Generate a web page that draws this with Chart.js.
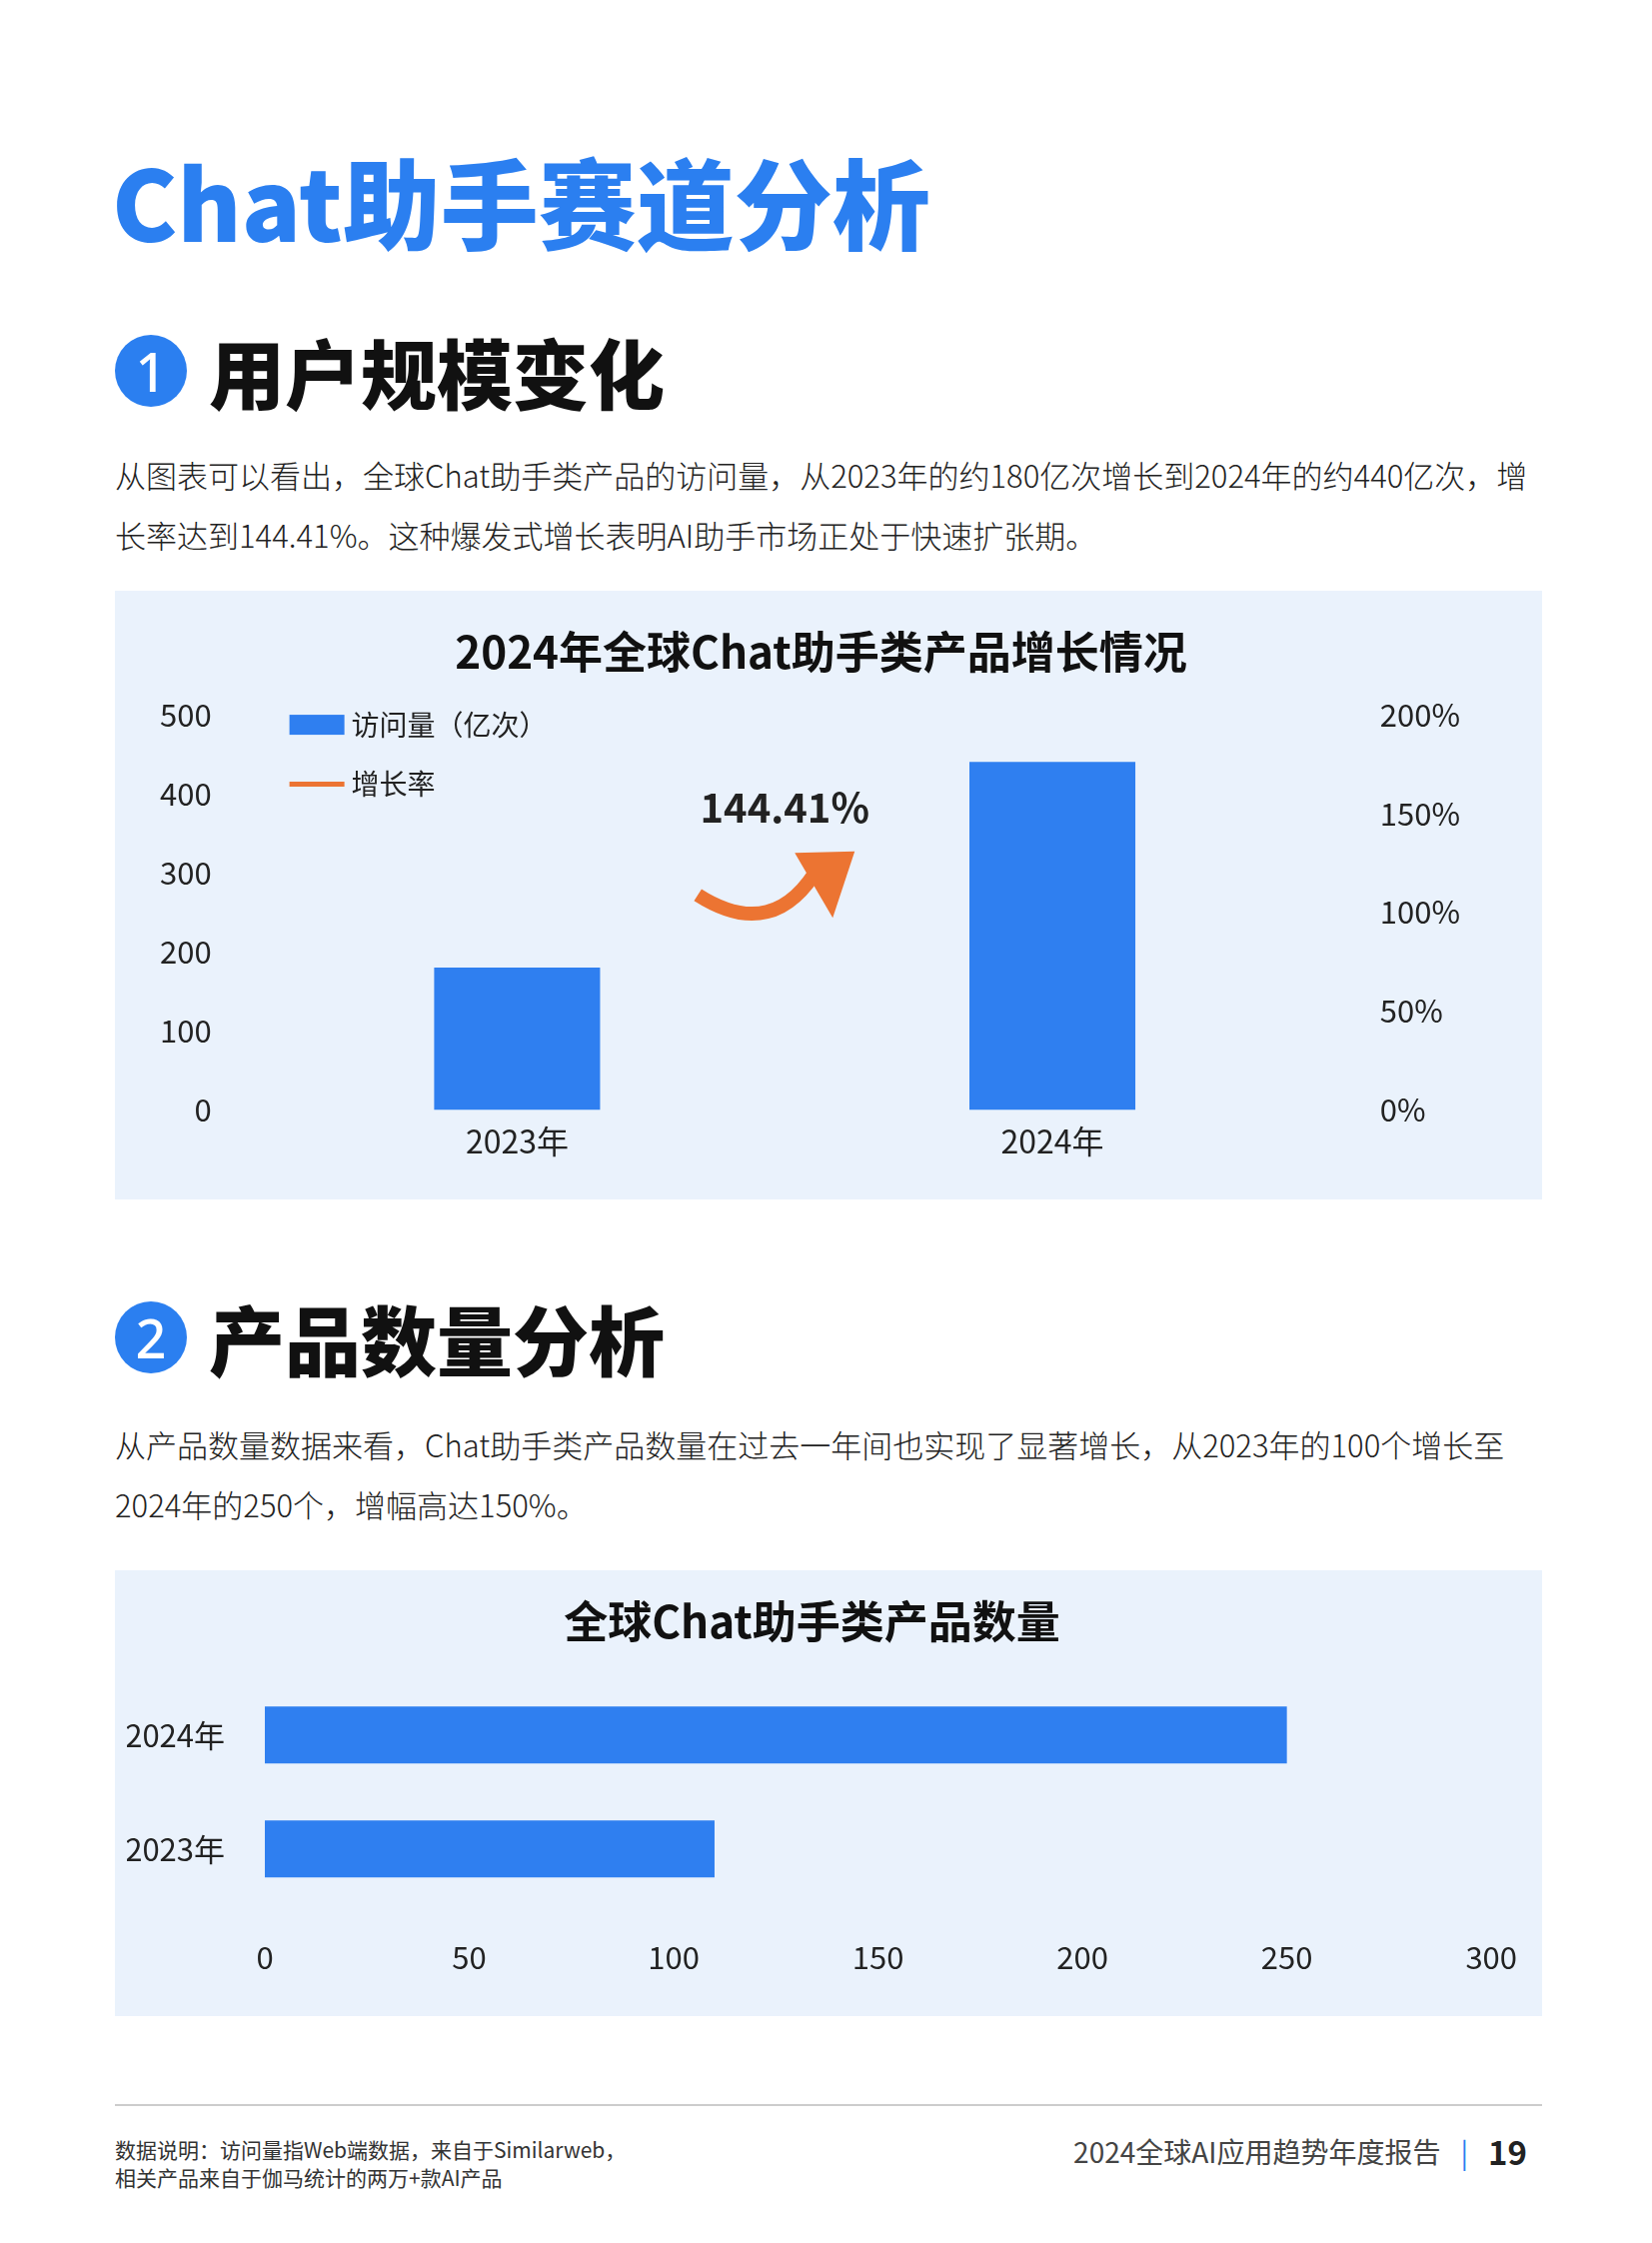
<!DOCTYPE html>
<html><head><meta charset="utf-8">
<script src="https://cdn.jsdelivr.net/npm/chart.js@4"></script>
<style>
body{margin:0;width:1653px;height:2244px;background:#fff;font-family:"Noto Sans CJK SC","Noto Sans",sans-serif;position:relative;overflow:hidden}
.a{position:absolute}
h1{position:absolute;left:112px;top:150px;margin:0;font-size:98px;font-weight:900;color:#2b7ff0;line-height:1}
.h2{position:absolute;left:115px;font-size:76px;font-weight:900;color:#111;line-height:1;display:flex;align-items:center}
.num{width:72px;height:72px;border-radius:50%;background:#2b7ff0;color:#fff;font-size:54px;font-weight:500;display:flex;align-items:center;justify-content:center;margin-right:22px;font-family:"Noto Sans",sans-serif}
p{position:absolute;left:115px;width:1430px;margin:0;font-size:31px;line-height:60px;color:#222;font-weight:300}
.box{position:absolute;left:115px;width:1428px;background:#eaf2fc}
</style></head><body>
<h1>Chat助手赛道分析</h1>
<div class="h2" style="top:333px"><div class="num">1</div>用户规模变化</div>
<p style="top:445px">从图表可以看出，全球Chat助手类产品的访问量，从2023年的约180亿次增长到2024年的约440亿次，增长率达到144.41%。这种爆发式增长表明AI助手市场正处于快速扩张期。</p>
<div class="box" style="top:591px;height:609px"><canvas id="c1"></canvas></div>
<div class="h2" style="top:1300px"><div class="num">2</div>产品数量分析</div>
<p style="top:1415px">从产品数量数据来看，Chat助手类产品数量在过去一年间也实现了显著增长，从2023年的100个增长至2024年的250个，增幅高达150%。</p>
<div class="box" style="top:1571px;height:446px"><canvas id="c2"></canvas></div>
<div class="a" style="left:115px;top:2105px;width:1428px;height:2px;background:#ccc"></div>
<div class="a" style="left:115px;top:2136px;font-size:21px;line-height:28px;color:#333">数据说明：访问量指Web端数据，来自于Similarweb，<br>相关产品来自于伽马统计的两万+款AI产品</div>
<div class="a" style="right:125px;top:2128px;font-size:28px;color:#444;display:flex;align-items:center">2024全球AI应用趋势年度报告<span style="color:#2b7ff0;margin:0 20px">|</span><b style="font-size:33px;color:#222">19</b></div>
<script>
const years=["2023年","2024年"];
const visits=[180,440];
const growth=[null,144.41];
const growthLabel="144.41%";
const prodYears=["2024年","2023年"];
const prodCounts=[250,110];
const blue="#2f7ff0",orange="#ec7432";
Chart.defaults.font.family='"Noto Sans CJK SC","Noto Sans",sans-serif';
Chart.defaults.color="#222";
const deco={id:"deco",afterDraw(ch){
 const c=ch.ctx,x=ch.scales.x,y=ch.scales.y,ca=ch.chartArea;
 c.save();
 c.font='28px "Noto Sans CJK SC"';c.textBaseline="middle";c.fillStyle="#222";
 const lx=ca.left+40;
 c.fillStyle=blue;c.fillRect(lx,y.getPixelForValue(487)-10,55,20);
 c.fillStyle="#222";c.fillText("访问量（亿次）",lx+62,y.getPixelForValue(487));
 c.strokeStyle=orange;c.lineWidth=5;c.beginPath();c.moveTo(lx,y.getPixelForValue(412));c.lineTo(lx+55,y.getPixelForValue(412));c.stroke();
 c.fillText("增长率",lx+62,y.getPixelForValue(412));
 const mx=(x.getPixelForValue(0)+x.getPixelForValue(1))/2;
 c.font='bold 40px "Noto Sans CJK SC"';c.textAlign="center";
 c.fillText(growthLabel,mx,y.getPixelForValue(383));
 const sx=mx-87,sy=y.getPixelForValue(272),ex=mx+35,ey=y.getPixelForValue(310);
 c.strokeStyle=orange;c.lineWidth=14;c.lineCap="butt";
 c.beginPath();c.moveTo(sx,sy);c.quadraticCurveTo(mx-10,y.getPixelForValue(210),ex,ey);c.stroke();
 c.fillStyle=orange;c.beginPath();
 c.moveTo(mx+70,y.getPixelForValue(327));c.lineTo(mx+10,y.getPixelForValue(325));c.lineTo(mx+48,y.getPixelForValue(243));c.closePath();c.fill();
 c.restore();
}};
new Chart(document.getElementById("c1"),{
 data:{labels:years,datasets:[
  {type:"bar",label:"访问量（亿次）",data:visits,backgroundColor:blue,yAxisID:"y",barPercentage:0.31,categoryPercentage:1,order:2},
  {type:"line",label:"增长率",data:growth,borderColor:orange,backgroundColor:orange,yAxisID:"y1",pointRadius:0,order:1}]},
 options:{responsive:true,maintainAspectRatio:false,animation:false,
  layout:{padding:{left:15,right:30,top:10,bottom:35}},
  plugins:{legend:{display:false},tooltip:{enabled:false},
   title:{display:true,text:"2024年全球Chat助手类产品增长情况",font:{size:44,weight:"bold"},color:"#111",padding:{top:25,bottom:36}}},
  scales:{
   x:{grid:{display:false},border:{display:false},ticks:{font:{size:32},color:"#222",padding:4}},
   y:{min:0,max:500,ticks:{stepSize:100,font:{size:31},color:"#222",padding:30},grid:{display:false},border:{display:false}},
   y1:{position:"right",min:0,max:200,ticks:{stepSize:50,font:{size:31},color:"#222",padding:52,callback:v=>v+"%"},grid:{display:false},border:{display:false}}
  }},
 plugins:[deco]});
new Chart(document.getElementById("c2"),{
 type:"bar",
 data:{labels:prodYears,datasets:[{label:"产品数量",data:prodCounts,backgroundColor:blue,barPercentage:0.5,categoryPercentage:1}]},
 options:{indexAxis:"y",responsive:true,maintainAspectRatio:false,animation:false,
  layout:{padding:{left:12,right:45,top:0,bottom:15}},
  plugins:{legend:{display:false},tooltip:{enabled:false},
   title:{display:true,text:"全球Chat助手类产品数量",font:{size:44,weight:"bold"},color:"#111",padding:{top:25,bottom:30}}},
  scales:{
   x:{min:0,max:300,ticks:{stepSize:50,font:{size:31},color:"#222",padding:25},grid:{display:false},border:{display:false}},
   y:{ticks:{font:{size:31},color:"#222",padding:32},grid:{display:false},border:{display:false},afterFit:s=>{s.width=138}}
  }}});
</script>
</body></html>
